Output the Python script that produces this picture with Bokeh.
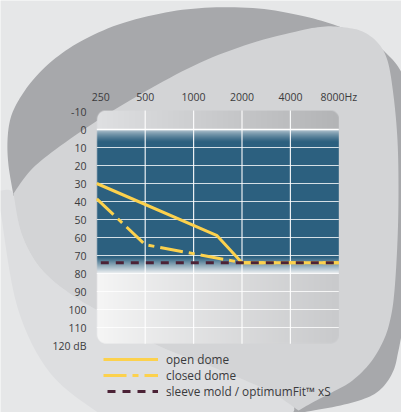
import numpy as np
from bokeh.plotting import figure
from bokeh.models import Range1d, LinearScale, Legend, LegendItem
from bokeh.core.properties import value
from bokeh.embed import file_html
from bokeh.resources import INLINE

# ---------------- data ----------------
freq_ticks = [250, 500, 1000, 2000, 4000, 8000]
freq_labels = ["250", "500", "1000", "2000", "4000", "8000Hz"]
db_ticks = [-10, 0, 10, 20, 30, 40, 50, 60, 70, 80, 90, 100, 110, 120]
db_labels = ["-10", "0", "10", "20", "30", "40", "50", "60", "70", "80", "90", "100", "110", "120 dB"]

open_freq = [250, 1400, 2000, 8000]
open_db = [30, 59, 74, 74]
closed_freq = [250, 500, 2000, 8000]
closed_db = [38.5, 64, 74, 74]
sleeve_freq = [250, 8000]
sleeve_db = [74, 74]
series_names = ["open dome", "closed dome", "sleeve mold / optimumFit\u2122 xS"]

# ---------------- layout (screen px) ----------------
W, H = 401, 412
X0, PX_OCT = 96.3, 48.4      # screen x of 250 Hz, px per octave
Y0, PX_DB = 129.0, 1.8       # screen y of 0 dB, px per dB
freq_label_nudge = [4, 0, 0, 0, 0, 0]

def sx(f):
    return X0 + PX_OCT * np.log2(np.asarray(f, float) / 250.0)

def sy(db):
    return Y0 + PX_DB * np.asarray(db, float)

BG = "#e6e7e8"
YEL = "#fcd14d"
DARK = "#4b2236"
TXT = "#3b3b3d"
FONT = "Open Sans"

x_range = Range1d(250 * 2 ** ((0 - X0) / PX_OCT), 250 * 2 ** ((W - X0) / PX_OCT))
y_range = Range1d((H - Y0) / PX_DB, (0 - Y0) / PX_DB)

p = figure(width=W, height=H, x_axis_type="log", x_range=x_range, y_range=y_range,
           output_backend="svg", toolbar_location=None, title=None,
           x_axis_location=None, y_axis_location=None, min_border=0,
           background_fill_color=BG, border_fill_color=BG, outline_line_color=None)
p.xgrid.visible = False
p.ygrid.visible = False
p.extra_x_ranges = {"px": Range1d(0, W)}
p.extra_x_scales = {"px": LinearScale()}
p.extra_y_ranges = {"py": Range1d(-H, 0)}
p.extra_y_scales = {"py": LinearScale()}

# ---------------- decorative background shapes ----------------
def smooth(pts, n=8):
    P = np.asarray(pts, float)
    P = np.vstack([P[0], P, P[-1]])
    out = []
    for i in range(1, len(P) - 2):
        p0, p1, p2, p3 = P[i - 1], P[i], P[i + 1], P[i + 2]
        for t in np.linspace(0, 1, n, endpoint=False):
            t2, t3 = t * t, t * t * t
            out.append(0.5 * (2 * p1 + (-p0 + p2) * t + (2 * p0 - 5 * p1 + 4 * p2 - p3) * t2
                              + (-p0 + 3 * p1 - 3 * p2 + p3) * t3))
    out.append(P[-2])
    return np.array(out)

def deco(chains, color):
    pts = np.vstack([smooth(c) if len(c) > 2 else np.asarray(c, float) for c in chains])
    p.patch(pts[:, 0], -pts[:, 1], fill_color=color, line_color=None,
            x_range_name="px", y_range_name="py")

# lighter zone below-left
deco([[(0, 190), (13, 193), (20, 230), (33, 258), (50, 278), (75, 297), (97, 310),
       (153, 343), (213, 367), (267, 390), (305, 414)],
      [(305, 414), (100, 414)],
      [(100, 414), (50, 373), (17, 307), (0, 210)]], "#dddee0")
# dark shape
deco([[(13, 195), (8, 165), (7, 140), (10, 118), (18, 100), (32, 80), (52, 60), (80, 41),
       (118, 24), (165, 12), (210, 7), (258, 8), (300, 15), (333, 24), (365, 37),
       (386, 53), (401, 72), (412, 105), (418, 160), (418, 230), (413, 290), (403, 326),
       (398, 350), (393, 370), (382, 387), (367, 397), (340, 405), (307, 411), (292, 414)],
      [(292, 414), (285, 396), (200, 330), (100, 270), (13, 195)]], "#a7a8ab")
# light shape
deco([[(13, 193), (30, 170), (55, 149), (100, 118), (150, 88), (200, 62), (250, 43),
       (300, 30), (325, 26), (345, 27), (362, 31), (377, 42), (387, 60), (393, 95),
       (397, 140), (398, 190), (397, 240), (394, 290), (390, 318), (383, 340),
       (370, 362), (352, 380), (333, 391), (312, 402), (298, 410)],
      [(298, 410), (267, 390), (213, 367), (153, 343), (97, 310), (75, 297), (50, 278),
       (33, 258), (20, 230), (13, 193)]], "#d3d4d6")

# ---------------- chart box (gradient background) ----------------
left, right = float(sx(250)), float(sx(8000))
top, bottom = float(sy(-10.5)), float(sy(119))
S = 2
Wp = int(round((right - left) * S))
Hp = int(round((bottom - top) * S))
XX, YY = np.meshgrid(left + (np.arange(Wp) + 0.5) / S, top + (np.arange(Hp) + 0.5) / S)
u = (XX - left) / (right - left)
db = (YY - Y0) / PX_DB

def c(h):
    h = h.lstrip("#")
    return np.array([int(h[i:i + 2], 16) for i in (0, 2, 4)], float)

def lerp(a, b, t):
    t = np.clip(t, 0, 1)[..., None]
    return a + (b - a) * t

blue = c("#2c607f")
gray_top = lerp(c("#dfe0e2"), c("#b3b4b6"), u)
fade_in = lerp(c("#d8e0e6"), blue, (np.clip(db / 7.0, 0, 1)) ** 0.6)
fade_out = lerp(blue, c("#eef1f3"), (db - 71) / 9.0)
lower = lerp(c("#f6f6f6"), c("#c9cacc"), u ** 0.9)
blue_full = np.broadcast_to(blue, gray_top.shape)
rgb = np.where((db < 0)[..., None], gray_top,
      np.where((db < 7)[..., None], fade_in,
      np.where((db < 71)[..., None], blue_full,
      np.where((db < 80)[..., None], fade_out, lower))))
r = 9.0
cx = np.clip(XX, left + r, right - r)
cy = np.clip(YY, top + r, bottom - r)
alpha = np.clip(r - np.hypot(XX - cx, YY - cy) + 0.5, 0, 1)
img = np.empty((Hp, Wp), dtype=np.uint32)
view = img.view(dtype=np.uint8).reshape((Hp, Wp, 4))
view[..., 0] = rgb[..., 0].astype(np.uint8)
view[..., 1] = rgb[..., 1].astype(np.uint8)
view[..., 2] = rgb[..., 2].astype(np.uint8)
view[..., 3] = (alpha * 255).astype(np.uint8)
img = np.ascontiguousarray(img[::-1])
p.image_rgba(image=[img], x=left, y=-bottom, dw=right - left, dh=bottom - top,
             x_range_name="px", y_range_name="py")

# grid lines
p.segment(x0=250, x1=8000, y0=db_ticks[2:-1], y1=db_ticks[2:-1],
          line_color="white", line_alpha=0.8, line_width=1)
p.segment(x0=250, x1=8000, y0=[0], y1=[0], line_color="white", line_width=1.6)
p.segment(x0=freq_ticks[1:-1], x1=freq_ticks[1:-1], y0=-10.5, y1=119,
          line_color="white", line_alpha=0.9, line_width=1.2)

# ---------------- series ----------------
r_closed = p.line(closed_freq, closed_db, line_color=YEL, line_width=3, line_dash="23 6 6 6")
r_open = p.line(open_freq, open_db, line_color=YEL, line_width=3)
r_sleeve = p.line(sleeve_freq, sleeve_db, line_color=DARK, line_width=3, line_dash="8 7",
                  line_dash_offset=11)

# ---------------- tick labels ----------------
p.text(x=86, y=db_ticks, text=db_labels, x_range_name="px",
       text_align="right", text_baseline="middle", text_font=value(FONT),
       text_font_size="10.5px", text_color=TXT)
p.text(x=freq_ticks, y=-96, text=freq_labels, x_offset=freq_label_nudge, y_range_name="py",
       text_align="center", text_baseline="middle", text_font=value(FONT),
       text_font_size="10.5px", text_color=TXT)

# ---------------- legend ----------------
legend = Legend(items=[LegendItem(label=series_names[0], renderers=[r_open]),
                       LegendItem(label=series_names[1], renderers=[r_closed]),
                       LegendItem(label=series_names[2], renderers=[r_sleeve])],
                location=(103, 13), orientation="vertical",
                glyph_width=55, glyph_height=16, label_height=16, spacing=0,
                padding=0, margin=0, label_standoff=8,
                background_fill_alpha=0, border_line_alpha=0,
                label_text_font=FONT, label_text_font_size="11.8px",
                label_text_color="#3a3a3c")
p.add_layout(legend)

open("out.html", "w").write(file_html(p, INLINE))
